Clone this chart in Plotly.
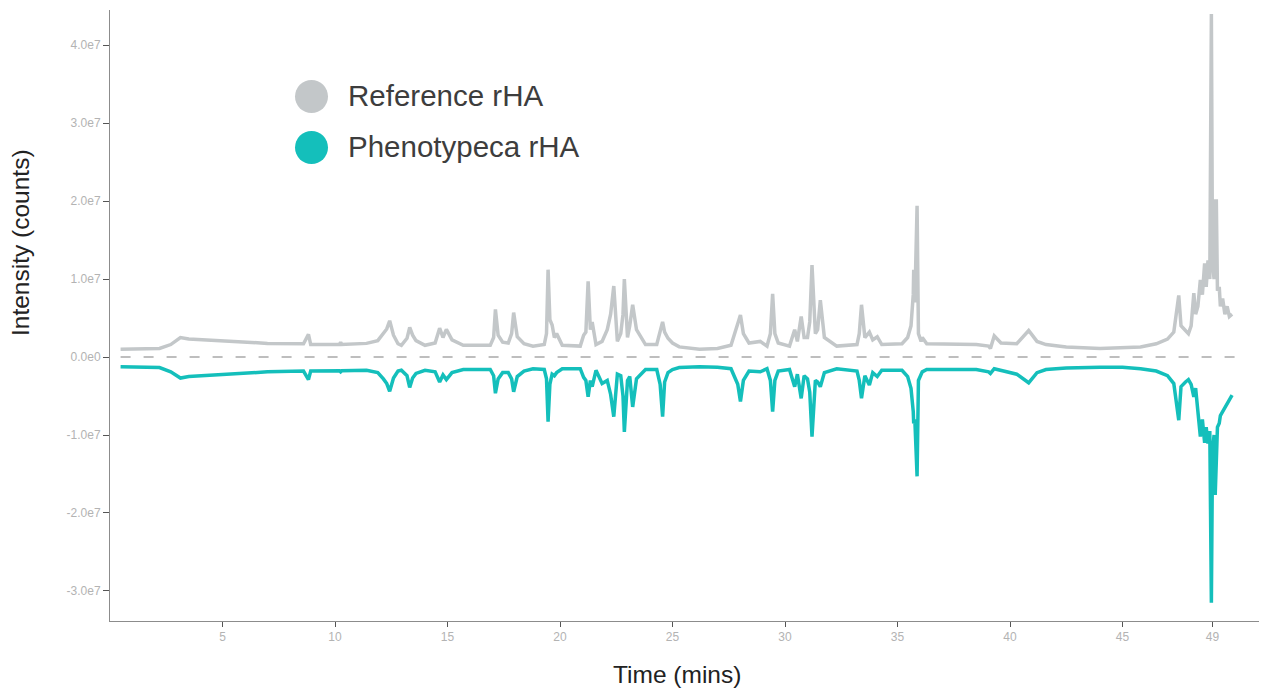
import plotly.graph_objects as go

# ---------------- data ----------------
# retention time in minutes, shared by both chromatograms
retention_time = [
    # 0.5 - 9 min
    0.47, 1.5, 2.2, 2.7, 3.13, 3.5, 4.0, 5.5, 7.0, 8.6, 8.82, 8.92,
    # 10 - 14 min
    10.2, 10.25, 10.3, 11.4, 11.9, 12.15, 12.3, 12.43, 12.6, 12.8, 12.95, 13.2,
    13.32, 13.45, 13.6, 14.0,
    # 14.5 - 19 min
    14.45, 14.65, 14.8, 14.95, 15.2, 15.7, 16.9, 17.05, 17.13, 17.25, 17.45,
    17.7, 17.85, 17.94, 18.1, 18.4, 18.8,
    # 19 - 27 min
    19.3, 19.4, 19.47, 19.55, 19.65, 19.75, 19.85, 20.1, 20.9, 21.05, 21.15,
    21.25, 21.35, 21.43, 21.6, 21.87, 22.1, 22.25, 22.39, 22.55, 22.7, 22.8,
    22.86, 23.0, 23.1, 23.23, 23.4, 23.8, 24.3, 24.45, 24.56, 24.65, 24.8,
    25.0, 25.3, 26.2, 27.0,
    # 27.5 - 34.5 min
    27.6, 27.9, 28.02, 28.15, 28.4, 28.9, 29.2, 29.35, 29.45, 29.55, 29.7,
    30.2, 30.43, 30.55, 30.72, 30.85, 31.0, 31.1, 31.2, 31.35, 31.45, 31.57,
    31.75, 32.3, 33.2, 33.3, 33.4, 33.55, 33.75, 33.9, 34.1, 34.3,
    # 35 - 47.3 min
    35.2, 35.45, 35.6, 35.7, 35.72, 35.77, 35.87, 35.93, 36.05, 36.1, 36.3,
    38.5, 39.05, 39.13, 39.3, 39.6, 40.3, 40.83, 41.2, 41.6, 42.5, 44.0,
    45.0, 45.8, 46.5, 47.0, 47.28,
    # 47.5 - 50 min
    47.5, 47.6, 47.8, 47.93, 48.05, 48.17, 48.25, 48.35, 48.46, 48.55, 48.65,
    48.72, 48.8, 48.88, 48.95, 49.0, 49.07, 49.12, 49.17, 49.22, 49.3, 49.35,
    49.45, 49.55, 49.65, 49.75, 49.87,
]

# intensities in millions of counts
reference_mcounts = [
    1.0, 1.0, 1.1, 1.6, 2.5, 2.3, 2.2, 2.0, 1.75, 1.7, 2.9, 1.6,
    1.6, 1.9, 1.6, 1.75, 2.1, 3.0, 3.6, 4.65, 2.8, 1.7, 1.5, 2.4,
    3.8, 2.8, 2.1, 1.5,
    1.8, 3.7, 2.5, 3.55, 2.2, 1.5, 1.5, 2.5, 6.1, 2.8, 1.9,
    1.8, 3.0, 5.7, 2.6, 1.7, 1.4,
    1.6, 3.0, 11.2, 4.8, 4.1, 2.5, 3.0, 1.5, 1.4, 2.8, 3.2,
    9.7, 3.5, 4.5, 1.6, 2.0, 3.5, 5.5, 9.1, 2.0, 3.0, 5.5,
    10.0, 2.5, 4.0, 6.7, 3.5, 1.6, 1.6, 3.2, 4.5, 3.2, 2.4,
    1.8, 1.3, 1.0, 1.1,
    1.5, 4.3, 5.4, 3.0, 1.8, 2.0, 1.4, 3.0, 8.1, 3.0, 1.8,
    1.4, 3.5, 2.0, 5.2, 2.5, 2.5, 4.5, 11.8, 3.0, 3.5, 7.3,
    2.5, 1.4, 1.6, 3.0, 6.7, 2.5, 3.2, 2.2, 2.6, 1.6,
    1.7, 2.5, 4.0, 8.0, 11.2, 7.0, 19.4, 3.0, 2.0, 2.5, 1.7,
    1.6, 1.4, 1.1, 2.7, 1.8, 1.7, 3.4, 2.0, 1.6, 1.3, 1.1,
    1.15, 1.3, 1.7, 2.3, 3.2,
    7.9, 4.0, 3.3, 3.0, 4.0, 8.2, 5.5, 6.5, 9.9, 8.0, 12.0,
    9.0, 12.4, 10.0, 44.0, 12.0, 10.0, 20.0, 20.0, 8.5, 9.0, 6.5,
    7.5, 5.5, 6.5, 5.2, 5.5,
]

phenotypeca_mcounts = [
    -1.25, -1.25, -1.35, -1.9, -2.7, -2.5, -2.4, -2.1, -1.9, -1.8, -2.9, -1.8,
    -1.75, -1.9, -1.75, -1.7, -2.0, -2.8, -3.4, -4.4, -2.7, -1.8, -1.7, -2.4,
    -3.9, -2.7, -2.1, -1.7,
    -1.9, -3.2, -2.3, -2.9, -2.0, -1.6, -1.6, -2.4, -4.65, -2.8, -2.0,
    -2.0, -2.8, -4.45, -2.5, -1.8, -1.5,
    -1.6, -2.8, -8.3, -3.5, -2.2, -2.4, -2.0, -1.5, -1.5, -2.6, -3.0,
    -5.1, -3.0, -3.8, -1.7, -3.4, -3.0, -4.8, -7.65, -2.2, -2.4, -5.0,
    -9.6, -3.0, -2.5, -6.4, -2.8, -1.6, -1.6, -3.5, -7.65, -3.2, -2.0,
    -1.6, -1.35, -1.25, -1.3,
    -1.5, -3.5, -5.7, -3.0, -1.8, -1.9, -1.5, -3.0, -7.0, -3.0, -1.8,
    -1.6, -3.8, -2.2, -5.3, -2.4, -2.8, -4.5, -10.2, -3.0, -3.2, -3.8,
    -2.0, -1.5, -1.8, -3.0, -5.3, -2.4, -3.6, -2.0, -2.5, -1.7,
    -1.7, -2.5, -4.0, -7.0, -8.5, -8.0, -15.3, -3.0, -2.0, -1.9, -1.6,
    -1.6, -1.9, -2.1, -1.5, -1.7, -2.2, -3.3, -2.0, -1.6, -1.4, -1.3,
    -1.3, -1.5, -1.8, -2.4, -3.4,
    -8.1, -3.8, -3.2, -2.9, -3.5, -5.1, -4.0, -6.5, -10.2, -8.0, -11.0,
    -9.0, -11.1, -9.5, -31.5, -12.0, -10.0, -17.7, -12.0, -9.0, -8.5, -7.5,
    -7.0, -6.5, -5.8, -5.5, -4.9,
]

assert len(retention_time) == len(reference_mcounts) == len(phenotypeca_mcounts)

series_names = ["Reference rHA", "Phenotypeca rHA"]

x_tick_values = [5, 10, 15, 20, 25, 30, 35, 40, 45, 49]
y_tick_values = [4.0e7, 3.0e7, 2.0e7, 1.0e7, 0.0, -1.0e7, -2.0e7, -3.0e7]
y_tick_labels = ["4.0e7", "3.0e7", "2.0e7", "1.0e7", "0.0e0", "-1.0e7", "-2.0e7", "-3.0e7"]

zero_line_span = [0.47, 50.4]

# ---------------- styling ----------------
GRAY = "#c3c7c9"
TEAL = "#14bfbb"
FONT = "Liberation Sans"

fig = go.Figure()
fig.add_trace(go.Scatter(
    x=retention_time, y=[v * 1e6 for v in reference_mcounts],
    mode="lines", name=series_names[0],
    line=dict(color=GRAY, width=3.5), showlegend=False,
))
fig.add_trace(go.Scatter(
    x=retention_time, y=[v * 1e6 for v in phenotypeca_mcounts],
    mode="lines", name=series_names[1],
    line=dict(color=TEAL, width=3.5), showlegend=False,
))

# dashed zero line
fig.add_shape(type="line", xref="x", yref="y",
              x0=zero_line_span[0], x1=zero_line_span[1], y0=0, y1=0,
              line=dict(color="#a9a9a9", width=1.5, dash="10px,13px"),
              layer="below")

# page body has an 8px margin: size the figure so it fits the window
OFF = 8
W, H = 1267 - OFF, 689 - OFF
L, R, T, B = 110 - OFF, 5, 10 - OFF, 68
PW, PH = W - L - R, H - T - B


def px(xp):
    # xp: page pixel
    return (xp - OFF - L) / PW


def py(yp):
    return (H - B - (yp - OFF)) / PH


# manual legend (large circles + text)
legend_rows = [(96.5, GRAY), (147.5, TEAL)]
r = 16.5
for (yc, col), name in zip(legend_rows, series_names):
    fig.add_shape(type="circle", xref="paper", yref="paper",
                  x0=px(311.5 - r), x1=px(311.5 + r),
                  y0=py(yc + r), y1=py(yc - r),
                  fillcolor=col, line=dict(width=0))
    fig.add_annotation(xref="paper", yref="paper", x=px(346), y=py(yc - 1),
                       xanchor="left", yanchor="middle", showarrow=False,
                       text=name, font=dict(family=FONT, size=29.5, color="#3d3d3d"))

# axis titles
fig.add_annotation(xref="paper", yref="paper", x=px(20), y=py(243),
                   xanchor="center", yanchor="middle", showarrow=False,
                   textangle=-90, text="Intensity (counts)",
                   font=dict(family=FONT, size=24.5, color="#222222"))
fig.add_annotation(xref="paper", yref="paper", x=px(677), y=py(674),
                   xanchor="center", yanchor="middle", showarrow=False,
                   text="Time (mins)",
                   font=dict(family=FONT, size=24.5, color="#222222"))

fig.update_layout(
    width=W, height=H,
    margin=dict(l=L, r=R, t=T, b=B),
    paper_bgcolor="white", plot_bgcolor="white",
    showlegend=False,
    xaxis=dict(
        range=[0, 51.2], tickmode="array", tickvals=x_tick_values,
        ticktext=[str(v) for v in x_tick_values],
        showgrid=False, zeroline=False,
        showline=True, linecolor="#8c8c8c", linewidth=1,
        ticks="outside", ticklen=5, tickcolor="#555555", tickwidth=1,
        tickfont=dict(family=FONT, size=12, color="#b3b3b3"),
    ),
    yaxis=dict(
        range=[-3.385e7, 4.45e7], tickmode="array", tickvals=y_tick_values,
        ticktext=y_tick_labels,
        showgrid=False, zeroline=False,
        showline=True, linecolor="#8c8c8c", linewidth=1,
        ticks="outside", ticklen=6, tickcolor="#555555", tickwidth=1,
        tickfont=dict(family=FONT, size=12, color="#b3b3b3"),
    ),
)

fig.write_html("out.html")
